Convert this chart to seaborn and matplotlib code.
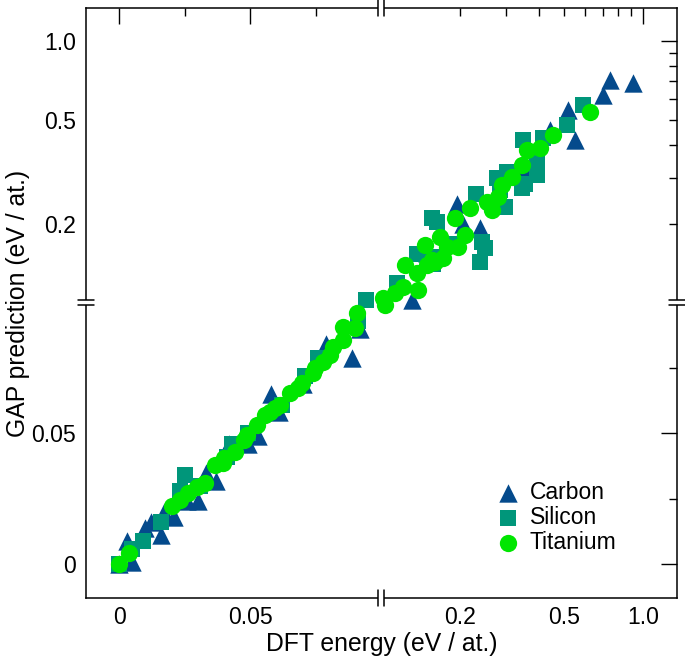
import numpy as np
import pandas as pd
import matplotlib
matplotlib.use("Agg")
import matplotlib.pyplot as plt
import seaborn as sns
from matplotlib.ticker import FixedLocator, FixedFormatter

# --- data (eV / atom) ---
carbon_dft = [0.000, 0.003, 0.005, 0.010, 0.012, 0.016, 0.017, 0.021, 0.026, 0.030,
              0.033, 0.037, 0.042, 0.049, 0.053, 0.058, 0.061, 0.070, 0.079, 0.089,
              0.092, 0.131, 0.150, 0.194, 0.205, 0.238, 0.300, 0.350, 0.441, 0.517,
              0.549, 0.700, 0.746, 0.916]
carbon_gap = [0.000, 0.009, 0.001, 0.014, 0.016, 0.011, 0.020, 0.018, 0.024, 0.024,
              0.035, 0.032, 0.046, 0.046, 0.049, 0.065, 0.058, 0.069, 0.084, 0.079,
              0.090, 0.102, 0.155, 0.239, 0.200, 0.192, 0.310, 0.330, 0.456, 0.544,
              0.417, 0.620, 0.712, 0.693]

silicon_dft = [0.000, 0.005, 0.009, 0.016, 0.023, 0.025, 0.031, 0.041, 0.043, 0.049,
               0.062, 0.071, 0.076, 0.091, 0.094, 0.115, 0.137, 0.158, 0.156, 0.156,
               0.163, 0.194, 0.231, 0.238, 0.242, 0.249, 0.276, 0.284, 0.297, 0.301,
               0.344, 0.348, 0.354, 0.392, 0.392, 0.415, 0.510, 0.590]
silicon_gap = [0.000, 0.006, 0.009, 0.016, 0.028, 0.034, 0.030, 0.041, 0.046, 0.050,
               0.061, 0.072, 0.079, 0.093, 0.102, 0.119, 0.154, 0.141, 0.150, 0.210,
               0.204, 0.168, 0.261, 0.143, 0.171, 0.161, 0.298, 0.269, 0.232, 0.316,
               0.273, 0.417, 0.285, 0.350, 0.307, 0.424, 0.476, 0.568]

titanium_dft = [0.0, 0.0037, 0.0201, 0.0232, 0.0262, 0.0297, 0.0327, 0.0365, 0.0396, 0.0400,
                0.0442, 0.0476, 0.0487, 0.0526, 0.0556, 0.0575, 0.0594, 0.0613, 0.0652, 0.0682,
                0.0697, 0.0739, 0.0747, 0.0777, 0.0804, 0.0816, 0.0854, 0.0854, 0.0900, 0.0907,
                0.1015, 0.1033, 0.1128, 0.1210, 0.1231, 0.1369, 0.1381, 0.1469, 0.1494, 0.1561,
                0.1603, 0.1675, 0.1720, 0.1782, 0.1911, 0.1962, 0.2086, 0.2180, 0.2532, 0.2646,
                0.2789, 0.2889, 0.3155, 0.3444, 0.3599, 0.4034, 0.4522, 0.6261]
titanium_gap = [0.0, 0.0043, 0.0223, 0.0246, 0.0272, 0.0295, 0.0311, 0.0379, 0.0387, 0.0406,
                0.0429, 0.0475, 0.0494, 0.0532, 0.0571, 0.0582, 0.0597, 0.0609, 0.0655, 0.0674,
                0.0693, 0.0731, 0.0750, 0.0773, 0.0800, 0.0830, 0.0857, 0.0907, 0.0903, 0.0960,
                0.1041, 0.0991, 0.1088, 0.1147, 0.1392, 0.1297, 0.1117, 0.1659, 0.1392, 0.1454,
                0.1429, 0.1780, 0.1480, 0.1630, 0.2103, 0.1630, 0.1811, 0.2297, 0.2421, 0.2256,
                0.2530, 0.2811, 0.3015, 0.3351, 0.3823, 0.3891, 0.4362, 0.5341]

major_ticks = [0, 0.05, 1.0]
major_labels = ["0", "0.05", "1.0"]
minor_ticks = [0.025, 0.075, 0.2, 0.3, 0.4, 0.5, 0.6, 0.7, 0.8, 0.9]
minor_labels = ["", "", "0.2", "", "", "0.5", "", "", "", ""]

BREAK = 0.1


# linear up to 0.1, then one decade of log takes the same length as 0-0.1
def fwd(v):
    v = np.asarray(v, dtype=float)
    return np.where(v <= BREAK, v, BREAK + BREAK * np.log10(np.maximum(v, BREAK) / BREAK))


def inv(u):
    u = np.asarray(u, dtype=float)
    return np.where(u <= BREAK, u, BREAK * 10 ** ((np.maximum(u, BREAK) - BREAK) / BREAK))


sns.set_style("white")
plt.rcParams["font.family"] = ["Liberation Sans", "DejaVu Sans"]
plt.rcParams["text.color"] = "black"
plt.rcParams["axes.labelcolor"] = "black"

fig = plt.figure(figsize=(6.85, 6.58), dpi=100)
ax = fig.add_axes([86 / 685, 60 / 658, 591 / 685, 590 / 658])

series = [
    ("Carbon", carbon_dft, carbon_gap, "^", "#044a8c", 175),
    ("Silicon", silicon_dft, silicon_gap, "s", "#00967a", 130),
    ("Titanium", titanium_dft, titanium_gap, "o", "#00e600", 155),
]
for name, xs, ys, mk, col, size in series:
    df = pd.DataFrame({"dft": xs, "gap": ys})
    sns.scatterplot(data=df, x="dft", y="gap", marker=mk, color=col, s=size,
                    linewidth=0, label=name, ax=ax, zorder=3)

ax.set_xscale("function", functions=(fwd, inv))
ax.set_yscale("function", functions=(fwd, inv))
ax.set_xlim(-0.0127, 1.346)
ax.set_ylim(-0.0129, 1.336)

for axis in (ax.xaxis, ax.yaxis):
    axis.set_major_locator(FixedLocator(major_ticks))
    axis.set_major_formatter(FixedFormatter(major_labels))
    axis.set_minor_locator(FixedLocator(minor_ticks))
    axis.set_minor_formatter(FixedFormatter(minor_labels))

ax.tick_params(which="both", direction="in", top=True, right=True,
               labelsize=16.6, colors="black", labelcolor="black", width=1.0)
ax.tick_params(which="major", length=11.5)
ax.tick_params(which="minor", length=5.8)
ax.tick_params(axis="x", which="both", pad=6)
ax.tick_params(axis="y", which="both", pad=7)

for sp in ax.spines.values():
    sp.set_linewidth(1.1)
    sp.set_color("black")

ax.set_xlabel("DFT energy (eV / at.)", fontsize=17.8, labelpad=2, color="black")
ax.set_ylabel("GAP prediction (eV / at.)", fontsize=17.8, labelpad=1, color="black")

# axis break marks "||" on every spine
x0, x1 = fwd(ax.get_xlim())
y0, y1 = fwd(ax.get_ylim())
bx = float((fwd(BREAK) - x0) / (x1 - x0))
by = float((fwd(BREAK) - y0) / (y1 - y0))
gx, gy = 2.85 / 591, 2.85 / 590
lx, ly = 8 / 591, 8 / 590
kw = dict(transform=ax.transAxes, clip_on=False, zorder=6)
for yy in (0, 1):
    ax.plot([bx - gx, bx + gx], [yy, yy], color="white", lw=3, solid_capstyle="butt", **kw)
    for xx in (bx - gx, bx + gx):
        ax.plot([xx, xx], [yy - ly, yy + ly], color="black", lw=1.1, **kw)
for xx in (0, 1):
    ax.plot([xx, xx], [by - gy, by + gy], color="white", lw=3, solid_capstyle="butt", **kw)
    for yy in (by - gy, by + gy):
        ax.plot([xx - lx, xx + lx], [yy, yy], color="black", lw=1.1, **kw)

leg = ax.legend(loc="upper left", bbox_to_anchor=(0.695, 0.198), frameon=False,
                fontsize=16.5, handlelength=1.0, handletextpad=0.45, labelspacing=0.08,
                borderpad=0, borderaxespad=0)
for t in leg.get_texts():
    t.set_color("black")

fig.savefig("out.png", dpi=100)
